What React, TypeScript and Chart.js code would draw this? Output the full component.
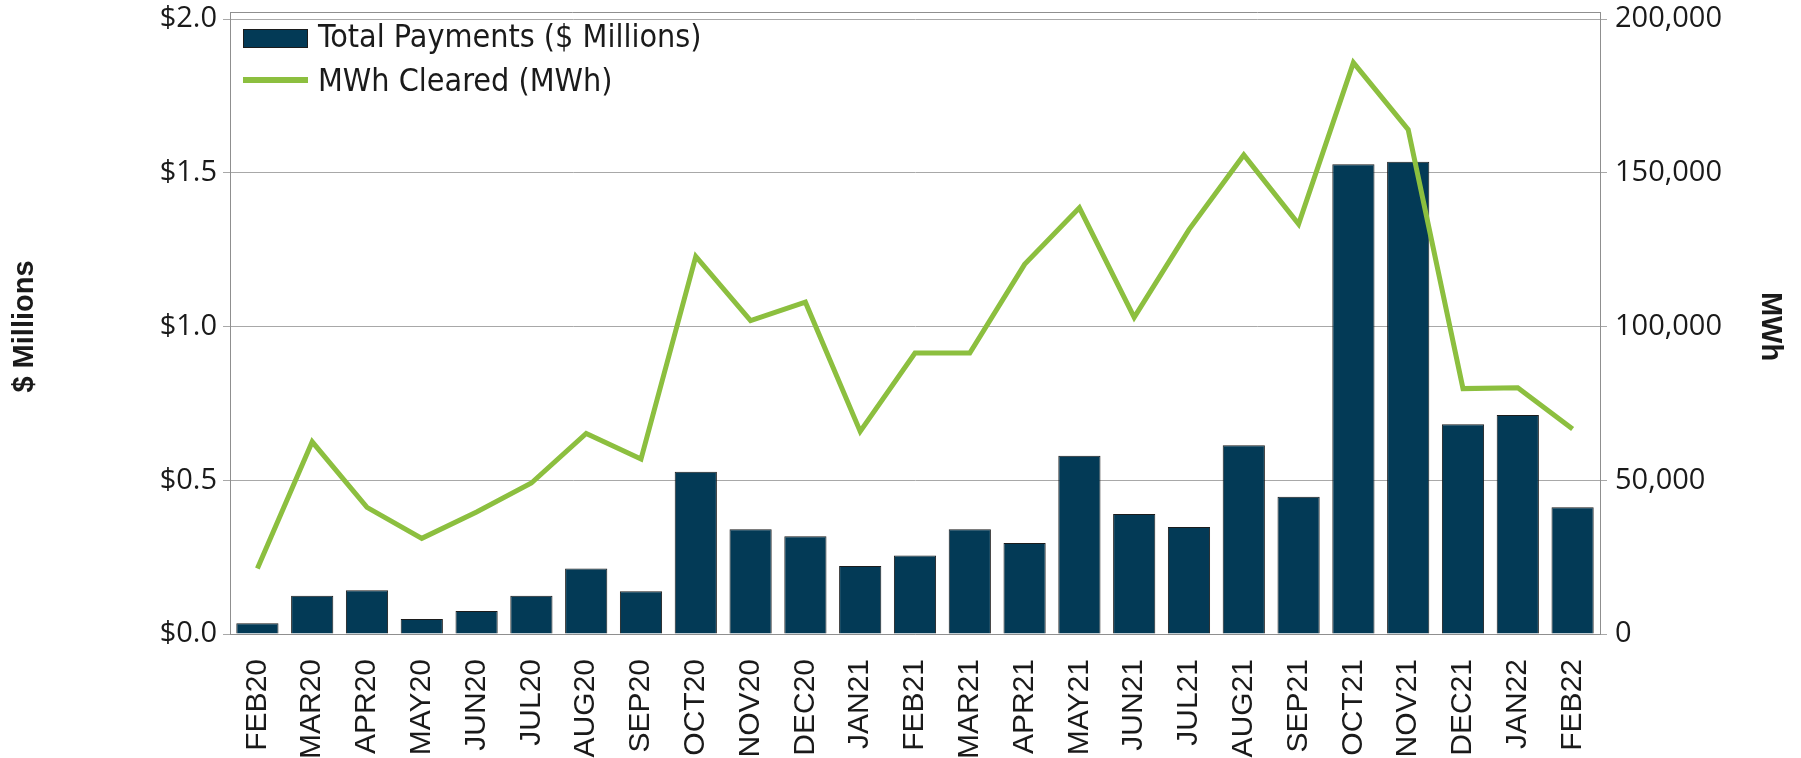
import React, { useEffect, useRef } from "react";
import { Chart, registerables } from "chart.js";

Chart.register(...registerables);

const months = [
  "FEB20", "MAR20", "APR20", "MAY20", "JUN20", "JUL20", "AUG20", "SEP20",
  "OCT20", "NOV20", "DEC20", "JAN21", "FEB21", "MAR21", "APR21", "MAY21",
  "JUN21", "JUL21", "AUG21", "SEP21", "OCT21", "NOV21", "DEC21", "JAN22", "FEB22",
];

const totalPayments = [
  0.035, 0.124, 0.142, 0.049, 0.075, 0.124, 0.213, 0.139,
  0.528, 0.341, 0.318, 0.221, 0.255, 0.341, 0.296, 0.580,
  0.390, 0.348, 0.614, 0.446, 1.528, 1.536, 0.682, 0.712, 0.412,
];

const mwhCleared = [
  21300, 62500, 41200, 31100, 39700, 49100, 65200, 56900,
  122800, 101900, 107900, 65900, 91400, 91400, 120200, 138600,
  103000, 131500, 155800, 133300, 185800, 164000, 79800, 80100, 66700,
];

const leftTicks = [0, 0.5, 1.0, 1.5, 2.0];
const rightTicks = [0, 50000, 100000, 150000, 200000];

const seriesLabels = ["Total Payments ($ Millions)", "MWh Cleared (MWh)"];
const axisTitles = ["$ Millions", "MWh"];

const BAR_COLOR = "#033a56";
const LINE_COLOR = "#8cbf3f";
const GRID_COLOR = "#a8a8a8";
const AXIS_COLOR = "#8f8f8f";
const TEXT_COLOR = "#1a1a1a";

const framePlugin = {
  id: "frameAndLegend",
  afterDraw(chart: any) {
    const { ctx, chartArea } = chart;
    const { left, right, top } = chartArea;
    ctx.save();
    ctx.strokeStyle = AXIS_COLOR;
    ctx.lineWidth = 1;
    ctx.beginPath();
    ctx.moveTo(left, top - 7 + 0.5);
    ctx.lineTo(right, top - 7 + 0.5);
    ctx.moveTo(Math.round(left) + 0.5, top - 7);
    ctx.lineTo(Math.round(left) + 0.5, top);
    ctx.moveTo(Math.round(right) + 0.5, top - 7);
    ctx.lineTo(Math.round(right) + 0.5, top);
    ctx.stroke();

    const lx = left + 13;
    ctx.fillStyle = BAR_COLOR;
    ctx.fillRect(lx, top + 10, 65, 19);
    ctx.strokeStyle = "#1c1c1c";
    ctx.strokeRect(lx + 0.5, top + 10.5, 64, 18);
    ctx.strokeStyle = LINE_COLOR;
    ctx.lineWidth = 6;
    ctx.beginPath();
    ctx.moveTo(lx, top + 61);
    ctx.lineTo(lx + 65, top + 61);
    ctx.stroke();
    ctx.fillStyle = TEXT_COLOR;
    ctx.font = "32px 'DejaVu Sans Condensed', 'DejaVu Sans'";
    ctx.textBaseline = "middle";
    ctx.textAlign = "left";
    ctx.fillText(chart.data.datasets[0].label, lx + 75, top + 20);
    ctx.fillText(chart.data.datasets[1].label, lx + 75, top + 64);
    ctx.restore();
  },
};

export default function App() {
  const ref = useRef<HTMLCanvasElement | null>(null);

  useEffect(() => {
    if (!ref.current) return;
    const chart = new Chart(ref.current, {
      type: "bar",
      data: {
        labels: months,
        datasets: [
          {
            type: "bar",
            label: seriesLabels[0],
            data: totalPayments,
            backgroundColor: BAR_COLOR,
            borderColor: "#1c1c1c",
            borderWidth: 1,
            barPercentage: 0.77,
            categoryPercentage: 1,
            yAxisID: "y",
            order: 1,
          },
          {
            type: "line",
            label: seriesLabels[1],
            data: mwhCleared,
            borderColor: LINE_COLOR,
            backgroundColor: LINE_COLOR,
            borderWidth: 5,
            pointRadius: 0,
            tension: 0,
            fill: false,
            yAxisID: "y1",
            order: 0,
          },
        ],
      },
      options: {
        responsive: false,
        animation: false,
        layout: { padding: { top: 19, left: 0, right: 0, bottom: 0 } },
        plugins: {
          legend: { display: false },
          tooltip: { enabled: false },
        },
        scales: {
          x: {
            offset: true,
            grid: { display: false },
            border: { display: true, color: AXIS_COLOR, width: 1 },
            ticks: {
              autoSkip: false,
              maxRotation: 90,
              minRotation: 90,
              padding: 17,
              color: TEXT_COLOR,
              font: { family: "'Liberation Sans', Arial", size: 30 },
            },
            afterFit(scale: any) {
              scale.height = 124;
              scale.paddingLeft = 0;
              scale.paddingRight = 0;
            },
          },
          y: {
            position: "left",
            min: leftTicks[0],
            max: leftTicks[leftTicks.length - 1],
            afterBuildTicks(scale: any) {
              scale.ticks = leftTicks.map((v) => ({ value: v }));
            },
            grid: { color: GRID_COLOR, tickLength: 7, lineWidth: 1 },
            border: { display: true, color: AXIS_COLOR, width: 1 },
            ticks: {
              padding: 6,
              color: TEXT_COLOR,
              font: { family: "'Open Sans'", size: 29 },
              callback: (v: any) => "$" + Number(v).toFixed(1),
            },
            title: {
              display: true,
              text: axisTitles[0],
              color: TEXT_COLOR,
              font: { family: "'Liberation Sans', Arial", size: 29, weight: "bold" },
              padding: { top: 8, bottom: 0 },
            },
            afterFit(scale: any) {
              scale.width = 230;
              scale.paddingTop = 0;
              scale.paddingBottom = 0;
            },
          },
          y1: {
            position: "right",
            min: rightTicks[0],
            max: rightTicks[rightTicks.length - 1],
            afterBuildTicks(scale: any) {
              scale.ticks = rightTicks.map((v) => ({ value: v }));
            },
            grid: { drawOnChartArea: false, color: GRID_COLOR, tickLength: 7 },
            border: { display: true, color: AXIS_COLOR, width: 1 },
            ticks: {
              padding: 8,
              color: TEXT_COLOR,
              font: { family: "'Open Sans'", size: 29 },
              callback: (v: any) => Number(v).toLocaleString("en-US"),
            },
            title: {
              display: true,
              text: axisTitles[1],
              color: TEXT_COLOR,
              font: { family: "'Liberation Sans', Arial", size: 29, weight: "bold" },
              padding: { top: 14, bottom: 0 },
            },
            afterFit(scale: any) {
              scale.width = 201;
              scale.paddingTop = 0;
              scale.paddingBottom = 0;
            },
          },
        },
      },
      plugins: [framePlugin],
    });
    return () => chart.destroy();
  }, []);

  return (
    <div style={{ position: "absolute", left: 0, top: 0, width: 1801, height: 758, background: "#fff" }}>
      <canvas ref={ref} width={1801} height={758} style={{ display: "block", width: 1801, height: 758 }} />
    </div>
  );
}
